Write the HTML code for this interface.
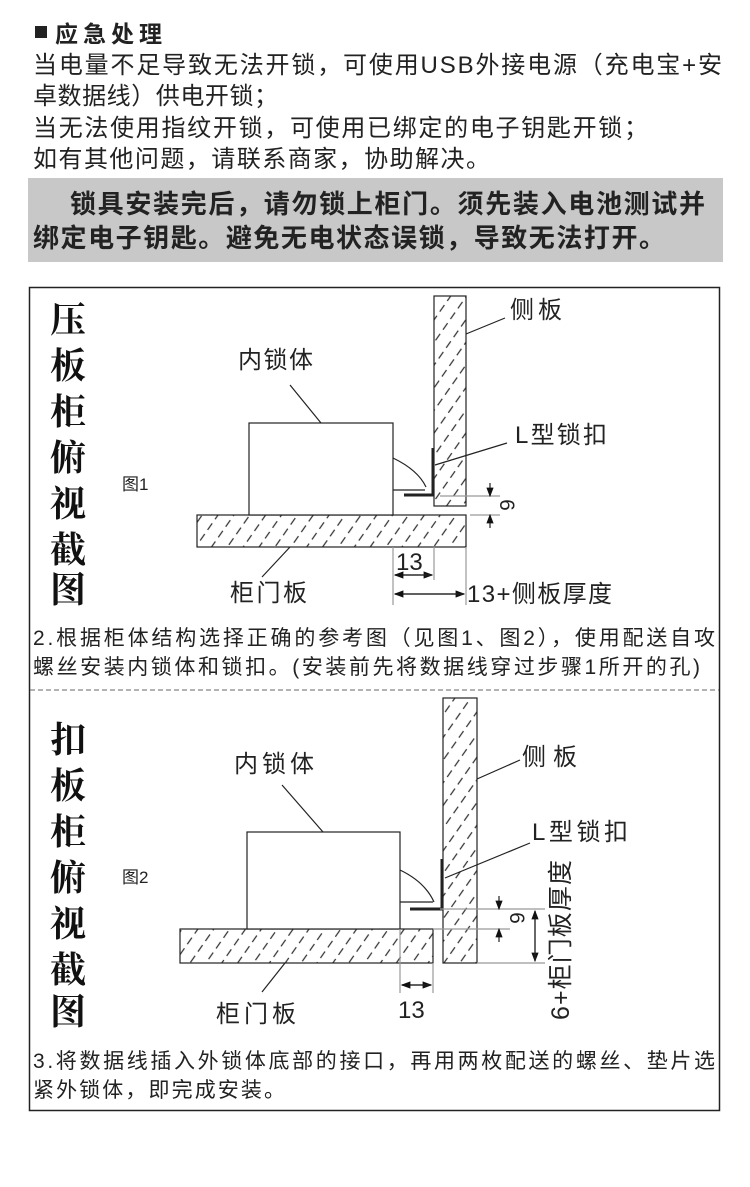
<!DOCTYPE html>
<html><head><meta charset="utf-8"><style>
body{margin:0;width:750px;height:1187px;background:#fff;position:relative;overflow:hidden;font-family:"Liberation Sans","Noto Sans CJK SC",sans-serif;color:#222}
svg{position:absolute;left:0;top:0}
</style></head><body>
<div style="position:absolute;left:28px;top:178px;width:695px;height:84px;background:#c8c8c8"></div>
<svg width="750" height="1187" viewBox="0 0 750 1187">
<defs><pattern id="h" width="13" height="13" patternUnits="userSpaceOnUse" patternTransform="rotate(-55)"><line x1="0" y1="6" x2="13" y2="6" stroke="#333" stroke-width="1.2" stroke-dasharray="5,5"/></pattern>
<marker id="a" markerWidth="8" markerHeight="8" refX="7" refY="4" orient="auto"><path d="M0,1 L8,4 L0,7Z" fill="#111"/></marker></defs>
<g font-family="Liberation Sans,Noto Sans CJK SC,sans-serif" fill="#222" lengthAdjust="spacing">
<rect x="35" y="26" width="12" height="12" fill="#222"/>
<text x="55" y="42" font-size="23" font-weight="bold" textLength="107">应急处理</text>
<text x="33" y="73" font-size="24" textLength="689">当电量不足导致无法开锁，可使用USB外接电源（充电宝+安</text>
<text x="33" y="104" font-size="24" textLength="245">卓数据线）供电开锁；</text>
<text x="33" y="136" font-size="24" textLength="615">当无法使用指纹开锁，可使用已绑定的电子钥匙开锁；</text>
<text x="33" y="167" font-size="24" textLength="457">如有其他问题，请联系商家，协助解决。</text>
<text x="70" y="213" font-size="26" font-weight="bold" textLength="635">锁具安装完后，请勿锁上柜门。须先装入电池测试并</text>
<text x="33" y="247" font-size="26" font-weight="bold" textLength="632">绑定电子钥匙。避免无电状态误锁，导致无法打开。</text>
</g>
<rect x="29.5" y="287.5" width="690" height="823" fill="none" stroke="#222" stroke-width="1.5"/>
<line x1="30" y1="690" x2="719" y2="690" stroke="#666" stroke-dasharray="5,3"/>
<g fill="none" stroke="#222" stroke-width="1.2">
<rect x="434" y="296" width="32" height="210" fill="url(#h)"/>
<rect x="197" y="515" width="269" height="32" fill="url(#h)"/>
<rect x="249" y="423" width="144" height="92" fill="#fff"/>
<line x1="393" y1="490" x2="425" y2="490"/>
<path d="M393,458 Q418,470 426,487"/>
<path d="M433,448 V495 H404" stroke-width="3"/>
<line x1="466" y1="334" x2="505" y2="318"/>
<line x1="290" y1="385" x2="321" y2="423"/>
<line x1="507" y1="443" x2="435" y2="465"/>
<line x1="290" y1="547" x2="262" y2="577"/>
<line x1="440" y1="496" x2="500" y2="496" stroke="#999"/><line x1="470" y1="515" x2="500" y2="515" stroke="#999"/>
<line x1="490" y1="483" x2="490" y2="496" marker-end="url(#a)"/><line x1="490" y1="528" x2="490" y2="515" marker-end="url(#a)"/>
<line x1="393" y1="547" x2="393" y2="605" stroke="#999"/><line x1="434" y1="547" x2="434" y2="580" stroke="#999"/><line x1="466" y1="547" x2="466" y2="605" stroke="#999"/>
<line x1="395" y1="575" x2="432" y2="575" marker-end="url(#a)"/><line x1="432" y1="575" x2="395" y2="575" marker-end="url(#a)"/>
<line x1="395" y1="594" x2="464" y2="594" marker-end="url(#a)"/><line x1="464" y1="594" x2="395" y2="594" marker-end="url(#a)"/>
<rect x="443" y="698" width="34" height="265" fill="url(#h)"/>
<rect x="180" y="929" width="253" height="34" fill="url(#h)"/>
<rect x="247" y="832" width="153" height="97" fill="#fff"/>
<line x1="400" y1="902" x2="433" y2="902"/>
<path d="M400,870 Q425,882 434,902"/>
<path d="M442,859 V909 H410" stroke-width="3"/>
<line x1="477" y1="779" x2="520" y2="760"/>
<line x1="282" y1="785" x2="323" y2="832"/>
<line x1="445" y1="878" x2="530" y2="843"/>
<line x1="285" y1="963" x2="262" y2="992"/>
<line x1="440" y1="909" x2="545" y2="909" stroke="#999"/><line x1="433" y1="929" x2="510" y2="929" stroke="#999"/><line x1="477" y1="963" x2="545" y2="963" stroke="#999"/>
<line x1="499" y1="896" x2="499" y2="909" marker-end="url(#a)"/><line x1="499" y1="942" x2="499" y2="929" marker-end="url(#a)"/>
<line x1="535" y1="911" x2="535" y2="961" marker-end="url(#a)"/><line x1="535" y1="961" x2="535" y2="911" marker-end="url(#a)"/>
<line x1="400" y1="929" x2="400" y2="993" stroke="#999"/><line x1="433" y1="963" x2="433" y2="993" stroke="#999"/>
<line x1="402" y1="985" x2="431" y2="985" marker-end="url(#a)"/><line x1="431" y1="985" x2="402" y2="985" marker-end="url(#a)"/>
</g>
<g font-family="Liberation Serif,Noto Serif CJK SC,serif" font-weight="bold" font-size="36" fill="#111" text-anchor="middle">
<text x="68" y="332">压</text><text x="68" y="378">板</text><text x="68" y="424">柜</text><text x="68" y="470">俯</text><text x="68" y="516">视</text><text x="68" y="562">截</text><text x="68" y="602">图</text>
<text x="68" y="752">扣</text><text x="68" y="798">板</text><text x="68" y="844">柜</text><text x="68" y="890">俯</text><text x="68" y="936">视</text><text x="68" y="982">截</text><text x="68" y="1024">图</text>
</g>
<g font-family="Liberation Sans,Noto Sans CJK SC,sans-serif" font-size="24" fill="#222" lengthAdjust="spacing">
<text x="510" y="318" textLength="52">侧板</text><text x="238" y="368" textLength="75">内锁体</text><text x="515" y="443" textLength="92">L型锁扣</text>
<text x="396" y="570">13</text><text x="467" y="602" textLength="145">13+侧板厚度</text><text x="230" y="601" textLength="77">柜门板</text>
<text x="522" y="765" textLength="55">侧板</text><text x="234" y="772" textLength="80">内锁体</text><text x="532" y="840" textLength="96">L型锁扣</text>
<text x="398" y="1018">13</text><text x="216" y="1022" textLength="80">柜门板</text>
<text transform="translate(500,505) rotate(90)" text-anchor="middle" font-size="21">6</text>
<text transform="translate(510,918) rotate(90)" text-anchor="middle" font-size="21">6</text>
<text transform="translate(569,940) rotate(-90)" text-anchor="middle" font-size="25" textLength="160">6+柜门板厚度</text>
<text x="122" y="490" font-size="17">图1</text><text x="122" y="883" font-size="17">图2</text>
<text x="33" y="645" font-size="21" textLength="682">2.根据柜体结构选择正确的参考图（见图1、图2），使用配送自攻</text>
<text x="33" y="674" font-size="21" textLength="667">螺丝安装内锁体和锁扣。(安装前先将数据线穿过步骤1所开的孔)</text>
<text x="33" y="1068" font-size="21" textLength="682">3.将数据线插入外锁体底部的接口，再用两枚配送的螺丝、垫片选</text>
<text x="33" y="1097" font-size="21" textLength="252">紧外锁体，即完成安装。</text>
</g>
</svg>
</body></html>
